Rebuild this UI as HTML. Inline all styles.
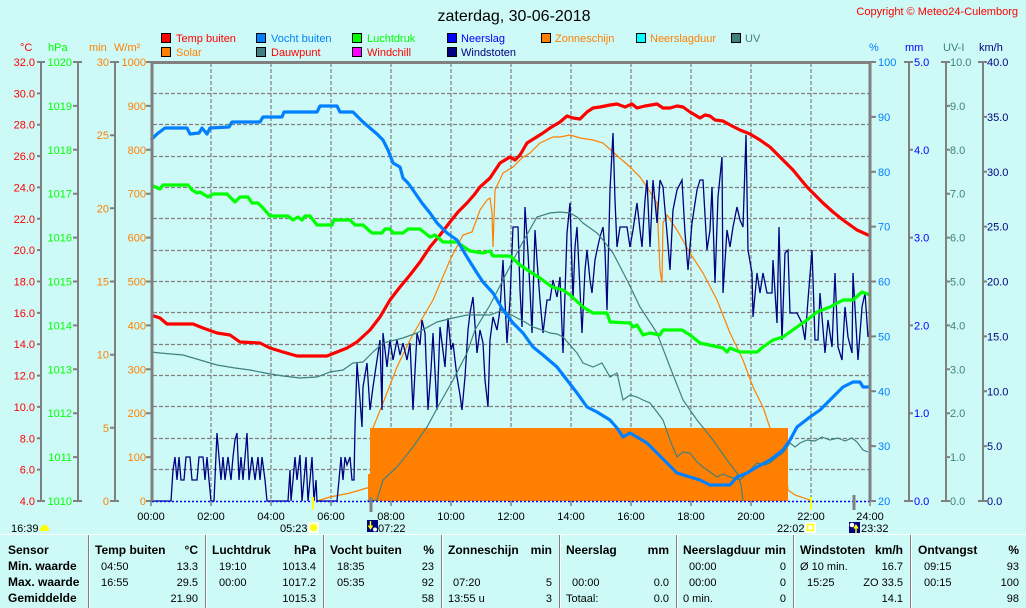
<!DOCTYPE html>
<html><head><meta charset="utf-8">
<style>
html,body{margin:0;padding:0;background:#cdfaf6;width:1026px;height:608px;overflow:hidden;}
svg{display:block;font-family:"Liberation Sans",Arial,sans-serif;}
</style></head><body>
<svg width="1026" height="608" viewBox="0 0 1026 608" xmlns="http://www.w3.org/2000/svg">
<rect width="1026" height="608" fill="#cdfaf6"/>

<!-- Title & copyright -->
<text x="514" y="21" font-size="16" text-anchor="middle" fill="#000">zaterdag, 30-06-2018</text>
<text x="1018" y="15" font-size="11" text-anchor="end" fill="#ff0000">Copyright © Meteo24-Culemborg</text>

<!-- Legend -->
<g stroke="#000" stroke-width="1">
<rect x="161.5" y="33.5" width="9" height="9" fill="#ff0000"/>
<rect x="256.5" y="33.5" width="9" height="9" fill="#0080ff"/>
<rect x="352.5" y="33.5" width="9" height="9" fill="#00ff00"/>
<rect x="447.5" y="33.5" width="9" height="9" fill="#0000ff"/>
<rect x="541.5" y="33.5" width="9" height="9" fill="#ff8000"/>
<rect x="636.5" y="33.5" width="9" height="9" fill="#00ffff"/>
<rect x="731.5" y="33.5" width="9" height="9" fill="#408080"/>
<rect x="161.5" y="47.5" width="9" height="9" fill="#ff8000"/>
<rect x="256.5" y="47.5" width="9" height="9" fill="#408080"/>
<rect x="352.5" y="47.5" width="9" height="9" fill="#ff00ff"/>
<rect x="447.5" y="47.5" width="9" height="9" fill="#000080"/>
</g>
<g font-size="11">
<text x="176" y="42" fill="#ff0000">Temp buiten</text>
<text x="271" y="42" fill="#0080ff">Vocht buiten</text>
<text x="367" y="42" fill="#00ff00">Luchtdruk</text>
<text x="461" y="42" fill="#0000ff">Neerslag</text>
<text x="555" y="42" fill="#ff8000">Zonneschijn</text>
<text x="650" y="42" fill="#ff8000">Neerslagduur</text>
<text x="745" y="42" fill="#408080">UV</text>
<text x="176" y="56" fill="#ff8000">Solar</text>
<text x="271" y="56" fill="#ff0000">Dauwpunt</text>
<text x="367" y="56" fill="#ff0000">Windchill</text>
<text x="461" y="56" fill="#000080">Windstoten</text>
</g>

<!-- Unit headers -->
<g font-size="11">
<text x="20" y="51" fill="#ff0000">°C</text>
<text x="48" y="51" fill="#00ff00">hPa</text>
<text x="89" y="51" fill="#ff8000">min</text>
<text x="114" y="51" fill="#ff8000">W/m²</text>
<text x="869" y="51" fill="#0080ff">%</text>
<text x="905" y="51" fill="#0000ff">mm</text>
<text x="943" y="51" fill="#408080">UV-I</text>
<text x="979" y="51" fill="#000080">km/h</text>
</g>

<!-- Grid -->
<path d="M153 93.5H869M153 124.5H869M153 156.5H869M153 187.5H869M153 218.5H869M153 250.5H869M153 281.5H869M153 312.5H869M153 344.5H869M153 375.5H869M153 406.5H869M153 438.5H869M153 469.5H869" stroke="#808080" stroke-width="1.2" stroke-dasharray="4,2" fill="none"/>
<path d="M211 63V501M271 63V501M331 63V501M391 63V501M451 63V501M511 63V501M571 63V501M631 63V501M691 63V501M751 63V501M811 63V501" stroke="#808080" stroke-width="1.2" stroke-dasharray="4,2" fill="none"/>

<!-- Sunshine bar -->
<rect x="368" y="474" width="3" height="27" fill="#ff8000"/>
<rect x="370" y="428" width="418" height="73" fill="#ff8000"/>

<!-- Solar -->
<polyline fill="none" stroke="#ff8000" stroke-width="1.2" points="317,501 330,497 350,493 367,488 371,487 373,428 383,403 397,367 410,340 423,317 433,300 450,260 463,235 472,232 480,210 487,200 490,198 492,213 493,247 495,190 503,173 513,167 522,158 530,153 540,143 553,137 560,137 570,135 577,137 580,138 593,140 603,143 613,152 630,167 640,177 647,187 657,203 660,270 662,283 663,223 667,215 677,230 690,253 703,273 717,300 730,333 743,360 753,387 763,407 770,428 780,445 787,480 788,490 795,495 810,500 812,501"/>

<!-- Wind gusts -->
<polyline fill="none" stroke="#000080" stroke-width="1.3" points="151,501 171,501 173,470 175,457 177,480 179,457 181,480 184,480 186,457 190,457 192,480 197,480 199,457 203,457 205,480 207,457 209,480 211,501 214,501 216,455 217,433 219,457 221,480 223,457 225,480 228,457 231,480 233,457 235,440 237,433 239,480 241,457 243,480 245,457 247,433 249,480 252,457 255,480 258,457 260,480 262,457 265,480 267,501 288,501 290,470 291,501 293,480 295,457 297,480 300,455 302,501 304,480 306,457 308,501 310,480 312,457 314,501 316,480 317,501 337,501 339,480 341,457 343,480 345,457 347,465 350,457 352,480 354,480 355,427 357,363 360,400 362,427 363,387 367,363 370,410 373,387 377,360 380,340 382,410 383,333 387,367 390,340 393,360 397,340 400,355 403,343 407,360 410,343 413,410 417,333 420,345 422,320 425,333 428,410 431,370 433,333 437,410 440,327 445,367 448,318 451,350 453,343 457,377 460,395 462,410 465,377 468,330 470,313 473,297 477,353 480,330 483,343 485,380 488,407 490,340 493,317 497,330 500,310 503,260 507,343 510,300 513,227 518,227 520,290 522,327 525,207 528,253 530,290 532,333 535,230 537,260 540,300 543,333 547,300 550,300 553,280 557,297 560,277 563,353 567,233 570,203 573,300 575,247 577,227 580,290 582,333 585,270 587,250 590,280 592,293 595,260 597,250 600,237 603,227 605,250 607,310 608,270 610,190 613,133 615,200 617,247 620,227 627,227 630,247 633,230 637,203 640,230 642,247 645,200 647,180 650,247 653,180 657,223 660,180 663,187 667,233 670,270 673,210 677,190 682,180 685,233 688,270 692,223 697,190 700,180 703,180 707,250 710,230 712,187 715,283 718,197 722,157 723,293 727,230 730,247 733,227 737,207 740,220 743,227 746,135 748,250 752,273 753,317 757,273 760,293 763,273 767,293 772,293 773,260 777,323 779,227 782,340 785,253 788,250 790,313 797,313 802,323 805,340 808,300 812,250 815,340 818,340 820,293 825,353 828,320 832,347 835,273 838,347 842,360 845,307 848,337 852,353 853,273 858,360 862,307 865,293 868,337 870,330"/>

<!-- UV -->
<polyline fill="none" stroke="#408080" stroke-width="1.2" points="367,501 377,500 383,480 397,467 413,447 427,427 440,403 453,380 467,353 475,330 490,305 503,280 520,247 537,217 550,213 560,212 570,213 577,217 583,223 597,233 603,240 613,253 627,280 640,307 657,333 670,367 683,400 697,420 713,440 727,460 737,473 741,485 743,501"/>

<!-- Dew point -->
<polyline fill="none" stroke="#408080" stroke-width="1.2" points="151,352 160,353 183,355 200,360 217,365 235,368 250,370 265,373 283,376 300,378 317,377 330,372 343,370 353,363 363,362 373,352 383,343 403,338 417,333 437,322 453,318 467,315 480,315 490,315 503,310 510,314 517,318 525,322 533,327 542,330 550,333 557,334 563,337 570,345 577,353 583,363 593,367 602,363 610,377 617,373 623,400 630,395 637,397 643,400 650,403 657,412 663,420 670,440 677,457 683,452 690,453 697,462 703,467 710,472 717,477 723,474 730,477 740,480 750,470 757,463 765,465 770,463 777,457 783,453 790,443 795,447 800,443 807,440 815,441 822,437 830,440 838,438 845,441 852,438 857,442 863,450 868,452"/>

<!-- Temp -->
<polyline fill="none" stroke="#ff0000" stroke-width="3.2" stroke-linejoin="round" points="151,315 160,318 167,324 193,324 203,328 217,333 230,335 240,342 260,343 270,348 283,352 297,356 327,356 337,352 347,348 357,342 370,330 380,317 390,300 400,287 410,275 420,262 430,247 440,235 450,222 458,212 467,203 474,195 480,187 490,178 500,163 505,160 510,157 515,160 520,155 527,143 535,138 543,133 550,128 560,122 567,116 573,118 580,119 587,112 593,108 600,107 610,105 617,104 625,107 632,104 637,108 645,106 657,104 663,108 670,108 677,106 683,107 690,112 700,118 705,115 710,116 715,120 723,121 732,126 740,130 750,134 760,140 770,147 780,157 793,170 807,187 823,203 833,212 843,220 857,230 868,235 870,235"/>

<!-- Pressure -->
<polyline fill="none" stroke="#00ff00" stroke-width="3.2" stroke-linejoin="round" points="151,185 160,189 163,185 188,185 192,190 197,193 200,192 208,197 213,194 227,194 230,197 235,202 240,197 248,197 252,203 258,203 263,208 270,216 288,216 293,220 298,217 302,220 305,216 310,216 317,225 332,225 334,220 350,220 355,225 363,225 372,233 382,233 385,229 390,229 393,233 403,233 408,229 420,229 430,237 435,235 443,242 457,242 467,249 470,251 483,253 490,251 493,256 510,256 520,265 532,273 540,278 552,287 563,290 570,295 583,307 593,313 607,313 610,322 630,323 633,327 637,325 643,335 650,333 660,335 663,330 682,330 690,335 700,343 723,348 727,352 730,348 740,352 757,352 763,347 773,340 783,337 797,327 807,320 817,312 830,307 843,300 853,300 862,292 870,295"/>

<!-- Humidity -->
<polyline fill="none" stroke="#0080ff" stroke-width="3.2" stroke-linejoin="round" points="151,140 157,134 165,128 187,128 190,134 199,133 202,128 207,134 210,128 229,127 232,122 260,122 263,117 282,117 284,112 317,112 320,106 337,106 340,112 353,112 363,122 370,128 377,134 383,140 388,150 393,163 400,167 403,178 408,183 413,190 422,203 430,213 437,223 447,233 457,240 467,257 477,273 483,282 493,293 503,310 513,323 523,333 533,347 543,355 557,367 567,380 577,393 587,407 597,412 610,420 617,428 623,437 630,433 637,437 647,443 657,453 667,463 677,473 690,477 700,480 710,485 730,485 737,477 747,473 757,467 770,460 783,450 790,440 797,427 810,417 820,410 830,400 843,387 853,382 860,382 863,387 870,387"/>

<!-- Rain baseline dotted -->
<line x1="152" y1="501.5" x2="870" y2="501.5" stroke="#0000ff" stroke-width="1.5" stroke-dasharray="2,2"/>

<!-- Plot border -->
<path d="M152 501V62.5H870V501" fill="none" stroke="#808080" stroke-width="3"/>

<!-- Left axes -->
<g stroke="#808080" stroke-width="2" fill="none">
<path d="M41 62V501M37 62H45M37 93.4H41M37 124.7H41M37 156.1H41M37 187.4H41M37 218.8H41M37 250.1H41M37 281.5H41M37 312.9H41M37 344.2H41M37 375.6H41M37 406.9H41M37 438.3H41M37 469.6H41M37 501H45"/>
<path d="M78 62V501M73 62H82M73 105.9H78M73 149.8H78M73 193.7H78M73 237.6H78M73 281.5H78M73 325.4H78M73 369.3H78M73 413.2H78M73 457.1H78M73 501H82"/>
<path d="M115 62V501M110 62H119M110 135.2H115M110 208.3H115M110 281.5H115M110 354.7H115M110 427.8H115M110 501H119"/>
<path d="M146 62H151M146 105.9H151M146 149.8H151M146 193.7H151M146 237.6H151M146 281.5H151M146 325.4H151M146 369.3H151M146 413.2H151M146 457.1H151M146 501H151"/>
<path d="M871 62H876M871 116.9H876M871 171.75H876M871 226.6H876M871 281.5H876M871 336.4H876M871 391.25H876M871 446.1H876M871 501H876"/>
<path d="M909 62V501M904 62H913M909 149.8H913M909 237.6H913M909 325.4H913M909 413.2H913M904 501H913"/>
<path d="M946 62V501M941 62H950M946 105.9H950M946 149.8H950M946 193.7H950M946 237.6H950M946 281.5H950M946 325.4H950M946 369.3H950M946 413.2H950M946 457.1H950M941 501H950"/>
<path d="M983 62V501M978 62H987M983 116.9H987M983 171.75H987M983 226.6H987M983 281.5H987M983 336.4H987M983 391.25H987M983 446.1H987M978 501H987"/>
<path d="M151 501V506M211 501V506M271 501V506M331 501V506M391 501V506M451 501V506M511 501V506M571 501V506M631 501V506M691 501V506M751 501V506M811 501V506M870 501V506" stroke-width="1.5"/>
</g>

<g font-size="11">
<g fill="#ff0000" text-anchor="end">
<text x="35" y="66">32.0</text><text x="35" y="97.4">30.0</text><text x="35" y="128.7">28.0</text><text x="35" y="160.1">26.0</text><text x="35" y="191.4">24.0</text><text x="35" y="222.8">22.0</text><text x="35" y="254.1">20.0</text><text x="35" y="285.5">18.0</text><text x="35" y="316.9">16.0</text><text x="35" y="348.2">14.0</text><text x="35" y="379.6">12.0</text><text x="35" y="410.9">10.0</text><text x="35" y="442.3">8.0</text><text x="35" y="473.6">6.0</text><text x="35" y="505">4.0</text>
</g>
<g fill="#00ff00" text-anchor="end">
<text x="72" y="66">1020</text><text x="72" y="109.9">1019</text><text x="72" y="153.8">1018</text><text x="72" y="197.7">1017</text><text x="72" y="241.6">1016</text><text x="72" y="285.5">1015</text><text x="72" y="329.4">1014</text><text x="72" y="373.3">1013</text><text x="72" y="417.2">1012</text><text x="72" y="461.1">1011</text><text x="72" y="505">1010</text>
</g>
<g fill="#ff8000" text-anchor="end">
<text x="109" y="66">30</text><text x="109" y="139.2">25</text><text x="109" y="212.3">20</text><text x="109" y="285.5">15</text><text x="109" y="358.7">10</text><text x="109" y="431.8">5</text><text x="109" y="505">0</text>
<text x="146" y="66">1000</text><text x="146" y="109.9">900</text><text x="146" y="153.8">800</text><text x="146" y="197.7">700</text><text x="146" y="241.6">600</text><text x="146" y="285.5">500</text><text x="146" y="329.4">400</text><text x="146" y="373.3">300</text><text x="146" y="417.2">200</text><text x="146" y="461.1">100</text><text x="146" y="505">0</text>
</g>
<g fill="#0080ff">
<text x="878" y="66">100</text><text x="878" y="120.9">90</text><text x="878" y="175.75">80</text><text x="878" y="230.6">70</text><text x="878" y="285.5">60</text><text x="878" y="340.4">50</text><text x="878" y="395.25">40</text><text x="878" y="450.1">30</text><text x="878" y="505">20</text>
</g>
<g fill="#0000ff">
<text x="914" y="66">5.0</text><text x="914" y="153.8">4.0</text><text x="914" y="241.6">3.0</text><text x="914" y="329.4">2.0</text><text x="914" y="417.2">1.0</text><text x="914" y="505">0.0</text>
</g>
<g fill="#408080">
<text x="950" y="66">10.0</text><text x="950" y="109.9">9.0</text><text x="950" y="153.8">8.0</text><text x="950" y="197.7">7.0</text><text x="950" y="241.6">6.0</text><text x="950" y="285.5">5.0</text><text x="950" y="329.4">4.0</text><text x="950" y="373.3">3.0</text><text x="950" y="417.2">2.0</text><text x="950" y="461.1">1.0</text><text x="950" y="505">0.0</text>
</g>
<g fill="#000080">
<text x="987" y="66">40.0</text><text x="987" y="120.9">35.0</text><text x="987" y="175.75">30.0</text><text x="987" y="230.6">25.0</text><text x="987" y="285.5">20.0</text><text x="987" y="340.4">15.0</text><text x="987" y="395.25">10.0</text><text x="987" y="450.1">5.0</text><text x="987" y="505">0.0</text>
</g>
<g fill="#000" text-anchor="middle">
<text x="151" y="520">00:00</text><text x="211" y="520">02:00</text><text x="271" y="520">04:00</text><text x="331" y="520">06:00</text><text x="391" y="520">08:00</text><text x="451" y="520">10:00</text><text x="511" y="520">12:00</text><text x="571" y="520">14:00</text><text x="631" y="520">16:00</text><text x="691" y="520">18:00</text><text x="751" y="520">20:00</text><text x="811" y="520">22:00</text><text x="870" y="520">24:00</text>
</g>
<g fill="#000">
<text x="11" y="532">16:39</text>
<text x="280" y="532">05:23</text>
<text x="378" y="532">07:22</text>
<text x="777" y="532">22:02</text>
<text x="861" y="532">23:32</text>
</g>
</g>

<!-- Axis markers -->
<line x1="313" y1="497" x2="313" y2="510" stroke="#ffff00" stroke-width="2"/>
<line x1="811" y1="497" x2="811" y2="510" stroke="#ffff00" stroke-width="2"/>
<line x1="371" y1="497" x2="371" y2="512" stroke="#808080" stroke-width="3"/>
<line x1="854" y1="495" x2="854" y2="510" stroke="#808080" stroke-width="3"/>

<!-- Icons -->
<path d="M40 531 Q40 525 44.5 525 Q49 525 49 531 Z" fill="#ffff00"/>
<rect x="308" y="522" width="11" height="11" fill="#ffffe6"/>
<circle cx="313.5" cy="527.5" r="3.5" fill="#ffff00"/>
<rect x="367" y="520" width="11" height="12" fill="#000080"/>
<path d="M370.5 521V528M368.5 525.5L370.5 528.5L372.5 525.5" stroke="#ffff00" stroke-width="1.5" fill="none"/>
<circle cx="375" cy="529.5" r="2" fill="#fff"/>
<rect x="805" y="522" width="11" height="11" fill="#fff"/>
<rect x="807.5" y="524.5" width="6" height="6" fill="none" stroke="#ffff00" stroke-width="1.5"/>
<rect x="849" y="522" width="11" height="11" fill="#000080"/>
<circle cx="852" cy="525" r="2.3" fill="#fff"/>
<path d="M856 533V526M854 528.5L856 525.5L858 528.5" stroke="#ffff00" stroke-width="1.5" fill="none"/>

<!-- Table -->
<line x1="0" y1="534.5" x2="1026" y2="534.5" stroke="#ffffff" stroke-width="1"/>
<g stroke-width="1">
<path d="M88.5 535V608M205.5 535V608M323.5 535V608M441.5 535V608M559.5 535V608M676.5 535V608M793.5 535V608M910.5 535V608" stroke="#808080"/>
<path d="M89.5 535V608M206.5 535V608M324.5 535V608M442.5 535V608M560.5 535V608M677.5 535V608M794.5 535V608M911.5 535V608" stroke="#ffffff"/>
</g>
<g font-size="12" font-weight="bold" fill="#000">
<text x="8" y="554">Sensor</text>
<text x="8" y="570">Min. waarde</text>
<text x="8" y="586">Max. waarde</text>
<text x="8" y="602">Gemiddelde</text>
<text x="95" y="554">Temp buiten</text><text x="198" y="554" text-anchor="end">°C</text>
<text x="212" y="554">Luchtdruk</text><text x="316" y="554" text-anchor="end">hPa</text>
<text x="330" y="554">Vocht buiten</text><text x="434" y="554" text-anchor="end">%</text>
<text x="448" y="554">Zonneschijn</text><text x="552" y="554" text-anchor="end">min</text>
<text x="566" y="554">Neerslag</text><text x="669" y="554" text-anchor="end">mm</text>
<text x="683" y="554">Neerslagduur</text><text x="786" y="554" text-anchor="end">min</text>
<text x="800" y="554">Windstoten</text><text x="903" y="554" text-anchor="end">km/h</text>
<text x="918" y="554">Ontvangst</text><text x="1019" y="554" text-anchor="end">%</text>
</g>
<g font-size="11" fill="#000">
<text x="101" y="570">04:50</text><text x="198" y="570" text-anchor="end">13.3</text>
<text x="219" y="570">19:10</text><text x="316" y="570" text-anchor="end">1013.4</text>
<text x="337" y="570">18:35</text><text x="434" y="570" text-anchor="end">23</text>
<text x="689" y="570">00:00</text><text x="786" y="570" text-anchor="end">0</text>
<text x="800" y="570">Ø 10 min.</text><text x="903" y="570" text-anchor="end">16.7</text>
<text x="924" y="570">09:15</text><text x="1019" y="570" text-anchor="end">93</text>

<text x="101" y="586">16:55</text><text x="198" y="586" text-anchor="end">29.5</text>
<text x="219" y="586">00:00</text><text x="316" y="586" text-anchor="end">1017.2</text>
<text x="337" y="586">05:35</text><text x="434" y="586" text-anchor="end">92</text>
<text x="453" y="586">07:20</text><text x="552" y="586" text-anchor="end">5</text>
<text x="572" y="586">00:00</text><text x="669" y="586" text-anchor="end">0.0</text>
<text x="689" y="586">00:00</text><text x="786" y="586" text-anchor="end">0</text>
<text x="807" y="586">15:25</text><text x="903" y="586" text-anchor="end">ZO 33.5</text>
<text x="924" y="586">00:15</text><text x="1019" y="586" text-anchor="end">100</text>

<text x="198" y="602" text-anchor="end">21.90</text>
<text x="316" y="602" text-anchor="end">1015.3</text>
<text x="434" y="602" text-anchor="end">58</text>
<text x="448" y="602">13:55 u</text><text x="552" y="602" text-anchor="end">3</text>
<text x="566" y="602">Totaal:</text><text x="669" y="602" text-anchor="end">0.0</text>
<text x="683" y="602">0 min.</text><text x="786" y="602" text-anchor="end">0</text>
<text x="903" y="602" text-anchor="end">14.1</text>
<text x="1019" y="602" text-anchor="end">98</text>
</g>
</svg>
</body></html>
